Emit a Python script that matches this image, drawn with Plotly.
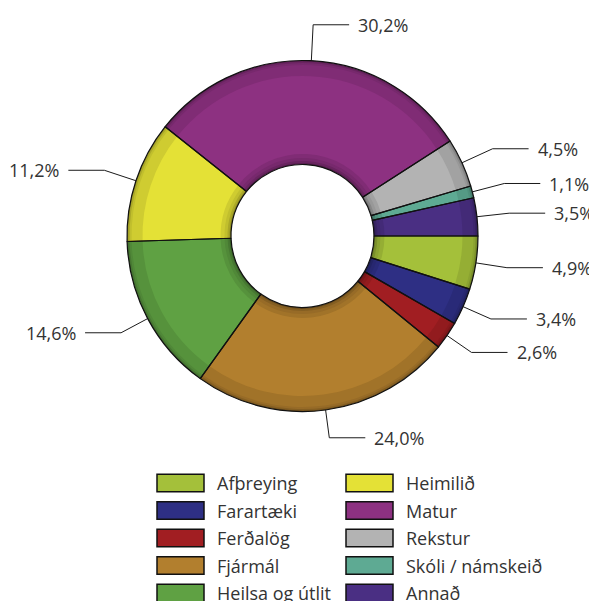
import math
import plotly.graph_objects as go

# ---------------- data ----------------
categories = ["Afþreying", "Farartæki", "Ferðalög", "Fjármál", "Heilsa og útlit",
              "Heimilið", "Matur", "Rekstur", "Skóli / námskeið", "Annað"]
values = [4.9, 3.4, 2.6, 24.0, 14.6, 11.2, 30.2, 4.5, 1.1, 3.5]
colors = ["#a4c03a", "#2e2f84", "#a11e22", "#b27f2e", "#5fa143",
          "#e4e136", "#8d3181", "#b3b3b3", "#5eaa93", "#4a2f83"]

# ---------------- layout constants ----------------
W, H = 597, 601
OFF = 8  # page body margin in the browser
CX, CY = 302.5, 236.0
R_OUT, R_IN = 175.5, 71.5
ROTATION = 90
FONT = "Open Sans"
TXT = "#333333"


def px(x):
    return (x - OFF) / W


def py(y):
    return 1 - (y - OFF) / H


def dom(r):
    return dict(x=[px(CX - r), px(CX + r)], y=[py(CY + r), py(CY - r)])


def shade(hx, f):
    h = hx.lstrip("#")
    r, g, b = (int(h[i:i + 2], 16) for i in (0, 2, 4))
    return "#%02x%02x%02x" % (int(r * f), int(g * f), int(b * f))


fig = go.Figure()

# shaded rings (bevel effect)
layers = [(175.5, 71.5, 0.62), (174.5, 73.0, 0.75), (173.0, 75.0, 0.85),
          (171.0, 78.0, 0.91), (160.0, 82.0, 1.0)]
for r, ri, f in layers:
    fig.add_trace(go.Pie(
        labels=categories, values=values, sort=False, direction="clockwise",
        rotation=ROTATION, hole=ri / r, domain=dom(r), textinfo="none",
        marker=dict(colors=[shade(c, f) for c in colors], line=dict(width=0)),
        showlegend=False, hoverinfo="skip"))

# outline layer
fig.add_trace(go.Pie(
    labels=categories, values=values, sort=False, direction="clockwise",
    rotation=ROTATION, hole=R_IN / R_OUT, domain=dom(R_OUT), textinfo="none",
    marker=dict(colors=["rgba(0,0,0,0)"] * len(values), line=dict(color="#111111", width=1.2)),
    showlegend=False, hoverinfo="label+percent"))

# ---------------- leader lines and labels ----------------
shapes = []
annotations = []
total = sum(values)
cum = 0.0
HOR, GAP = 36, 7
for cat, v in zip(categories, values):
    mid = cum + v / 2
    cum += v
    ang = math.radians(ROTATION + 360 * mid / total)
    ux, uy = math.sin(ang), -math.cos(ang)
    ext = 32 - 4 * uy
    x0, y0 = CX + R_OUT * ux, CY + R_OUT * uy
    x1, y1 = CX + (R_OUT + ext) * ux, CY + (R_OUT + ext) * uy
    side = 1 if ux >= -0.02 else -1
    x2 = x1 + side * HOR
    path = "M %.4f %.4f L %.4f %.4f L %.4f %.4f" % (
        px(x0), py(y0), px(x1), py(y1), px(x2), py(y1))
    shapes.append(dict(type="path", xref="paper", yref="paper", path=path,
                       line=dict(color="#1a1a1a", width=1)))
    label = ("%.1f" % v).replace(".", ",") + "%"
    annotations.append(dict(x=px(x2 + side * GAP), y=py(y1), xref="paper", yref="paper",
                            text=label, showarrow=False,
                            xanchor="left" if side > 0 else "right", yanchor="middle",
                            font=dict(family=FONT, size=18, color=TXT)))

# ---------------- legend (two columns) ----------------
col_x = [157, 346]
row_y0 = 483
row_dy = 27.5
bw, bh = 47, 17.5
for i, (cat, c) in enumerate(zip(categories, colors)):
    col, row = divmod(i, 5)
    xb = col_x[col]
    yc = row_y0 + row * row_dy
    shapes.append(dict(type="rect", xref="paper", yref="paper",
                       x0=px(xb), x1=px(xb + bw),
                       y0=py(yc - bh / 2), y1=py(yc + bh / 2),
                       fillcolor=c, line=dict(color="#111111", width=1.5)))
    annotations.append(dict(x=px(xb + 58), y=py(yc), xref="paper", yref="paper",
                            text=cat, showarrow=False, xanchor="left", yanchor="middle",
                            font=dict(family=FONT, size=18, color=TXT)))

fig.update_layout(width=W, height=H, margin=dict(l=0, r=0, t=0, b=0),
                  paper_bgcolor="white", plot_bgcolor="white",
                  shapes=shapes, annotations=annotations, showlegend=False)

fig.write_html("out.html")
